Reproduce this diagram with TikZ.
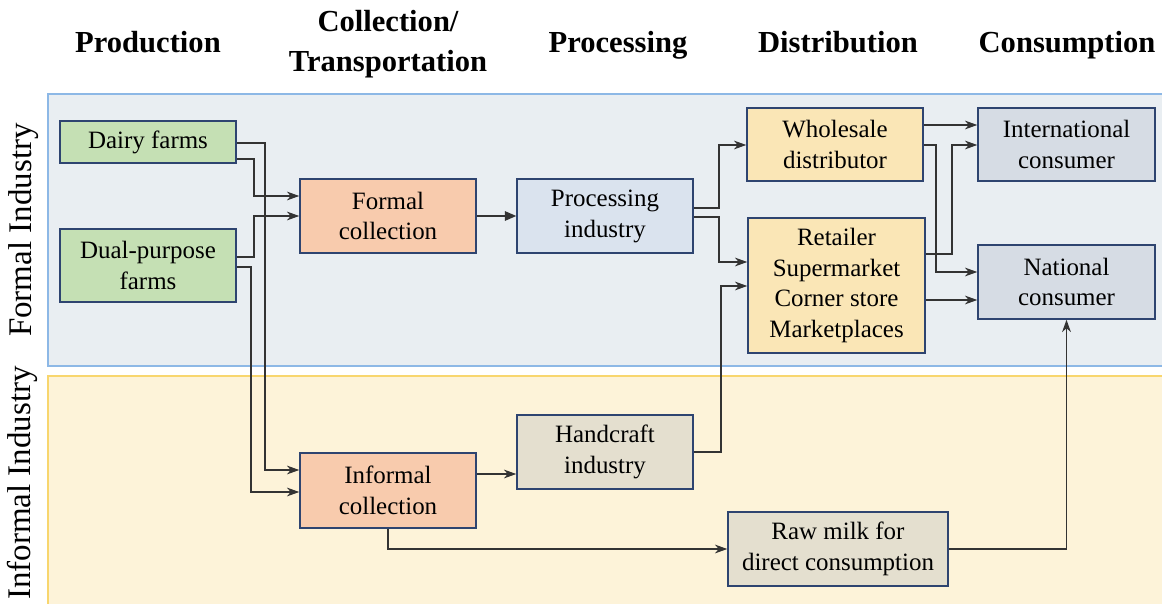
\documentclass[tikz,border=0pt]{standalone}
\usepackage{fontspec}
\setmainfont{Liberation Serif}
\usetikzlibrary{arrows.meta}

\definecolor{formalbg}{HTML}{E9EEF2}
\definecolor{formalline}{HTML}{8DB8E6}
\definecolor{informalbg}{HTML}{FDF3D9}
\definecolor{informalline}{HTML}{F8D66E}
\definecolor{boxline}{HTML}{2E4470}
\definecolor{prodfill}{HTML}{C5E0B4}
\definecolor{collfill}{HTML}{F8CBAD}
\definecolor{procfill}{HTML}{DAE3EE}
\definecolor{distfill}{HTML}{FAE6B6}
\definecolor{consfill}{HTML}{D6DCE4}
\definecolor{craftfill}{HTML}{E4DFCF}
\definecolor{linkline}{HTML}{333333}

\begin{document}
\begin{tikzpicture}[x=0.02cm,y=-0.02cm,
  box/.style={draw=boxline,line width=0.9pt,align=center,minimum width=3.52cm,minimum height=1.48cm,inner sep=0pt,font=\fontsize{14.2}{17.6}\selectfont},
  head/.style={align=center,font=\fontsize{17.4}{22.7}\selectfont\bfseries},
  side/.style={rotate=90,font=\fontsize{18.8}{22}\selectfont},
  link/.style={draw=linkline,line width=0.6pt,-{Stealth[length=7pt,width=5pt,inset=2.2pt]}},
  tri/.style={draw=linkline,line width=0.6pt,-{Triangle[length=6.5pt,width=5.5pt]}}]
\useasboundingbox (0,0) rectangle (1162,604);

% panels
\filldraw[fill=formalbg,draw=formalline,line width=0.9pt] (48,94) rectangle (1168,366);
\filldraw[fill=informalbg,draw=informalline,line width=0.9pt] (48,376) rectangle (1168,612);
\node[side] (formal) at (24,230) {Formal Industry};
\node[side] (informal) at (22,483) {Informal Industry};

% headers
\node[head,anchor=base] (h1) at (148,53) {Production};
\node[head] (h2) at (388,44) {Collection/\\Transportation};
\node[head,anchor=base] (h3) at (618,53) {Processing};
\node[head,anchor=base] (h4) at (838,53) {Distribution};
\node[head,anchor=base] (h5) at (1067,53) {Consumption};

% boxes
\node[box,fill=prodfill,minimum height=0.84cm] (dairy) at (148,142) {Dairy farms};
\node[box,fill=prodfill,minimum height=1.46cm] (dual) at (148,265.5) {Dual-purpose\\farms};
\node[box,fill=collfill] (formcol) at (388,216) {Formal\\collection};
\node[box,fill=procfill] (proc) at (605,216) {Processing\\industry};
\node[box,fill=distfill,minimum height=1.46cm] (whole) at (835,144.5) {Wholesale\\distributor};
\node[box,fill=distfill,minimum width=3.54cm,minimum height=2.7cm] (retail) at (836.5,285.5) {Retailer\\Supermarket\\Corner store\\Marketplaces};
\node[box,fill=consfill,minimum width=3.54cm,minimum height=1.46cm] (intl) at (1066.5,144.5) {International\\consumer};
\node[box,fill=consfill,minimum width=3.54cm] (natl) at (1066.5,282) {National\\consumer};
\node[box,fill=craftfill] (hand) at (605,452) {Handcraft\\industry};
\node[box,fill=collfill,minimum height=1.5cm] (infcol) at (388,490.5) {Informal\\collection};
\node[box,fill=craftfill,minimum width=4.4cm] (raw) at (838,549) {Raw milk for\\direct consumption};

% production to collection
\draw[link] (dairy.east |- 0,143) -| (265,470) -- (infcol.west |- 0,470);
\draw[link] (dairy.east |- 0,159) -| (254,196) -- (formcol.west |- 0,196);
\draw[link] (dual.east |- 0,257) -| (254,216) -- (formcol.west |- 0,216);
\draw[link] (dual.east |- 0,267) -| (251,492) -- (infcol.west |- 0,492);

% collection to processing
\draw[tri] (formcol) -- (proc);
\draw[link] (infcol.east |- 0,474) -- (hand.west |- 0,474);

% processing to distribution
\draw[link] (proc.east |- 0,208) -| (719,145) -- (whole.west |- 0,145);
\draw[link] (proc.east |- 0,217) -| (719,262) -- (retail.west |- 0,262);
\draw[link] (hand.east) -| (721,286) -- (retail.west |- 0,286);

% distribution to consumption
\draw[link] (whole.east |- 0,125) -- (intl.west |- 0,125);
\draw[link] (whole.east |- 0,145) -| (936,272) -- (natl.west |- 0,272);
\draw[link] (retail.east |- 0,254) -| (952,145) -- (intl.west |- 0,145);
\draw[link] (retail.east |- 0,300) -- (natl.west |- 0,300);

% raw milk
\draw[link] (infcol.south) |- (raw.west);
\draw[link] (raw.east) -| (natl.south);

\end{tikzpicture}
\end{document}
